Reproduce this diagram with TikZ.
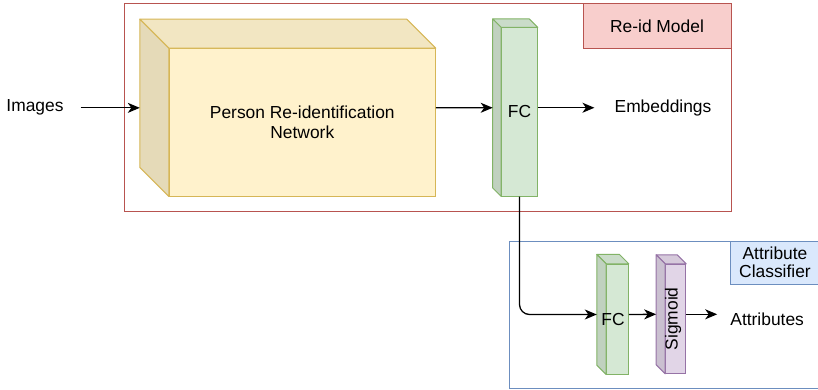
\documentclass[tikz,border=0pt]{standalone}
\usepackage{fontspec}
\setmainfont{Liberation Sans}
\usetikzlibrary{positioning, arrows.meta, calc}

\definecolor{netfill}{HTML}{FFF2CC}
\definecolor{netline}{HTML}{D6B656}
\definecolor{fcfill}{HTML}{D5E8D4}
\definecolor{fcline}{HTML}{82B366}
\definecolor{sigfill}{HTML}{E1D5E7}
\definecolor{sigline}{HTML}{9673A6}
\definecolor{reidfill}{HTML}{F8CECC}
\definecolor{reidline}{HTML}{B85450}
\definecolor{attrfill}{HTML}{DAE8FC}
\definecolor{attrline}{HTML}{6C8EBF}

\begin{document}
\begin{tikzpicture}[
  x=1pt, y=-1pt,
  every node/.style={font=\fontsize{17.4}{20}\selectfont},
  front/.style={draw, line width=1pt, inner sep=0pt, align=center},
  frame/.style={draw, line width=1pt, inner sep=0pt},
  tag/.style={draw, line width=1pt, inner sep=0pt, align=center,
              font=\fontsize{17.4}{18.5}\selectfont},
  txt/.style={inner sep=0pt},
  arr/.style={-{Stealth[length=12pt, width=10pt, inset=3.5pt]}, line width=1.3pt},
]
\clip (0,0) rectangle (818,390);

% ---- Frames ----
\node[frame, draw=reidline, minimum width=607, minimum height=207] (reid) at (427.5,107.5) {};
\node[tag, fill=reidfill, draw=reidline, minimum width=148, minimum height=44.7,
      anchor=north east] (reidtag) at (reid.north east) {Re-id Model};
\node[frame, draw=attrline, minimum width=311, minimum height=147] (attr) at (664.5,314.5) {};
\node[tag, fill=attrfill, draw=attrline, minimum width=90, minimum height=43,
      anchor=north east] (attrtag) at (attr.north east) {Attribute\\Classifier};

% ---- Blocks (front faces) ----
\node[front, fill=netfill, draw=netline, minimum width=266, minimum height=147.3]
  (net) at (302.3,122.35) {Person Re-identification\\Network};
\node[front, fill=fcfill, draw=fcline, minimum width=35.6, minimum height=168]
  (fc) at (519.5,112) {FC};
\node[front, fill=fcfill, draw=fcline, minimum width=21.6, minimum height=109.7]
  (fc2) at (617.5,319.2) {};
\node[front, fill=sigfill, draw=sigline, minimum width=20, minimum height=109]
  (sig) at (675.7,318.8) {};

% ---- Depth faces ----
\foreach \blk/\dep/\col in {net/29/net, fc/8.5/fc, fc2/9.4/fc, sig/9/sig} {
  \draw[line width=1pt, draw=\col line, fill=\col fill!95!black, line join=round]
    (\blk.north west) -- ++(-\dep,-\dep) -- ($(\blk.north east)+(-\dep,-\dep)$)
    -- (\blk.north east) -- cycle;
  \draw[line width=1pt, draw=\col line, fill=\col fill!90!black, line join=round]
    (\blk.north west) -- ++(-\dep,-\dep) -- ($(\blk.south west)+(-\dep,-\dep)$)
    -- (\blk.south west) -- cycle;
  \coordinate (\blk-in) at ($(\blk.west)+(-\dep,-\dep/2)$);
  \coordinate (\blk-out) at ($(\blk.east)+(0,-\dep/2)$);
}

% ---- Texts ----
\node[txt] (fc2txt) at ($(fc2.center)+(-4.5,0)$) {FC};
\node[txt, rotate=90] (sigtxt) at ($(sig.center)+(-2.5,0)$) {Sigmoid};
\node[txt] (images) at (35,107) {Images};
\node[txt] (emb) at (663,108) {Embeddings};
\node[txt, right=44pt of sig.east] (attrs) {Attributes};

% ---- Arrows ----
\draw[arr, shorten <=17pt] (images.east |- net-in) -- (net-in);
\draw[arr] (net-out) -- (fc-in);
\draw[arr, shorten >=20pt] (fc-out) -- (emb.west |- fc-out);
\draw[arr, rounded corners=10pt] (fc.south) |- (fc2-in);
\draw[arr] (fc2-out) -- (sig-in);
\draw[arr, shorten >=13pt] (sig-out) -- (attrs.west |- sig-out);

\end{tikzpicture}
\end{document}
